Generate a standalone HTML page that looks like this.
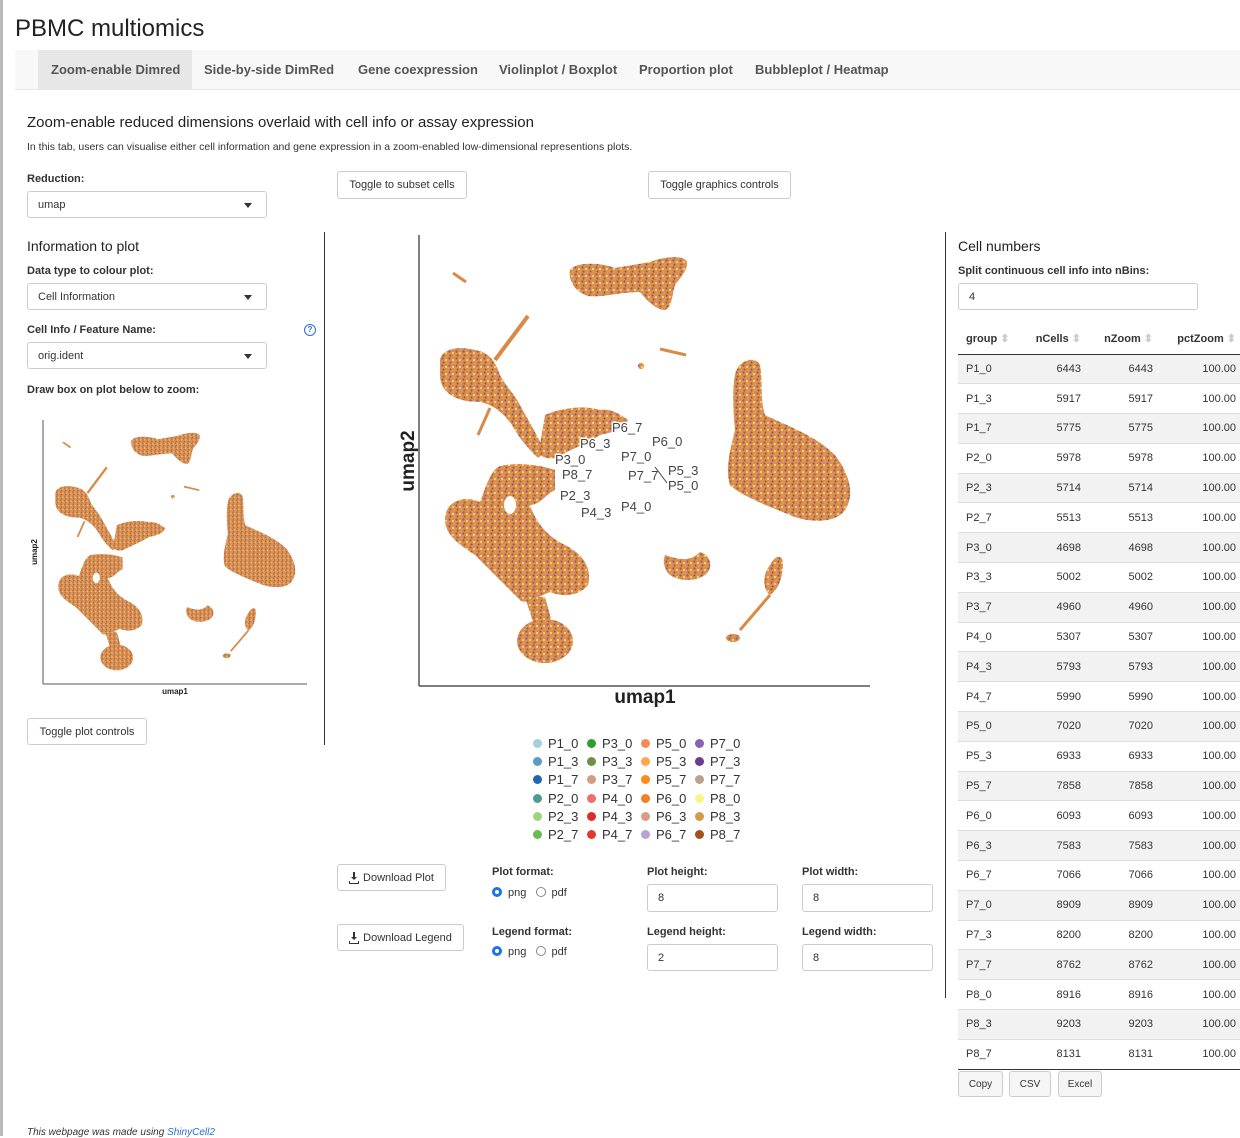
<!DOCTYPE html>
<html><head><meta charset="utf-8">
<style>
*{box-sizing:border-box;margin:0;padding:0}
body{width:1240px;height:1136px;overflow:hidden;background:#fff;font-family:"Liberation Sans",Arial,sans-serif;color:#333;position:relative}
.a{position:absolute;white-space:nowrap}
.lbl{font-size:11px;font-weight:bold;color:#333}
.sel,.inp{position:absolute;border:1px solid #ccc;border-radius:3px;font-size:11px;padding-left:10px;display:flex;align-items:center;background:#fff}
.sel:after{content:"";position:absolute;right:14px;top:50%;margin-top:-2px;border-left:4px solid transparent;border-right:4px solid transparent;border-top:5px solid #333}
.btn{position:absolute;border:1px solid #ccc;border-radius:3px;font-size:11px;display:flex;align-items:center;justify-content:center;background:#fff;color:#333}
.tab{position:absolute;top:50px;height:39px;font-size:13px;font-weight:bold;color:#555;display:flex;align-items:center}
table{position:absolute;left:958px;top:323px;border-collapse:collapse;font-size:11px;width:286px;table-layout:fixed}
td,th{height:29.8px;padding:0 8px;overflow:hidden}
th{text-align:left;font-weight:bold;height:31px;border-bottom:1px solid #333}
td.r,th.r{text-align:right}
tr.o td{background:#f2f2f2}
tr td{border-top:1px solid #ddd}
.leg{position:absolute;font-size:13px;color:#333}
.dot{display:inline-block;width:9px;height:9px;border-radius:50%;margin-right:6px;vertical-align:-0px}
.radio{display:inline-block;width:10px;height:10px;border-radius:50%;border:1px solid #888;vertical-align:-1px;margin-right:6px}
.radio.on{border:3px solid #1a73e8}
</style></head><body>
<div class="a" style="left:0;top:0;width:3px;height:1136px;background:#bbb"></div>
<div class="a" style="left:15px;top:15px;font-size:24px;color:#222">PBMC multiomics</div>
<div class="a" style="left:15px;top:50px;width:1225px;height:40px;background:#f8f8f8;border-bottom:1px solid #e7e7e7"></div>
<div class="a" style="left:38px;top:50px;width:154px;height:39px;background:#e7e7e7"></div>
<div class="tab" style="left:51px">Zoom-enable Dimred</div>
<div class="tab" style="left:204px">Side-by-side DimRed</div>
<div class="tab" style="left:358px">Gene coexpression</div>
<div class="tab" style="left:499px">Violinplot / Boxplot</div>
<div class="tab" style="left:639px">Proportion plot</div>
<div class="tab" style="left:755px">Bubbleplot / Heatmap</div>

<div class="a" style="left:27px;top:114px;font-size:15px;color:#222">Zoom-enable reduced dimensions overlaid with cell info or assay expression</div>
<div class="a" style="left:27px;top:141px;font-size:10.5px">In this tab, users can visualise either cell information and gene expression in a zoom-enabled low-dimensional representions plots.</div>

<div class="a lbl" style="left:27px;top:173px">Reduction:</div>
<div class="sel" style="left:27px;top:191px;width:240px;height:27px">umap</div>
<div class="btn" style="left:337px;top:171px;width:130px;height:28px">Toggle to subset cells</div>
<div class="btn" style="left:648px;top:171px;width:143px;height:28px">Toggle graphics controls</div>

<div class="a" style="left:27px;top:238px;font-size:14px;color:#222">Information to plot</div>
<div class="a lbl" style="left:27px;top:265px">Data type to colour plot:</div>
<div class="sel" style="left:27px;top:283px;width:240px;height:27px">Cell Information</div>
<div class="a lbl" style="left:27px;top:324px">Cell Info / Feature Name:</div>
<div class="a" style="left:304px;top:324px;width:12px;height:12px;border:1.5px solid #2a6fd6;border-radius:50%;font-size:8px;color:#2a6fd6;text-align:center;line-height:9px;font-weight:bold">?</div>
<div class="sel" style="left:27px;top:342px;width:240px;height:27px">orig.ident</div>
<div class="a lbl" style="left:27px;top:384px">Draw box on plot below to zoom:</div>
<div class="btn" style="left:27px;top:718px;width:120px;height:27px">Toggle plot controls</div>

<div class="a" style="left:324px;top:232px;width:1px;height:513px;background:#333"></div>
<div class="a" style="left:945px;top:232px;width:1px;height:766px;background:#333"></div>

<div class="btn" style="left:337px;top:864px;width:109px;height:27px;padding-left:14px">Download Plot</div>
<div class="btn" style="left:337px;top:924px;width:127px;height:27px;padding-left:14px">Download Legend</div>

<svg class="a" style="left:0;top:0;z-index:2" width="1240" height="1136">
<defs>
<pattern id="pt" width="7" height="7" patternUnits="userSpaceOnUse">
<rect width="7" height="7" fill="#e08f45"/>
<circle cx="1.5" cy="1.5" r="1.1" fill="#7d5aa0"/>
<circle cx="5" cy="3" r="1" fill="#efe27a"/>
<circle cx="2.5" cy="5.5" r="1" fill="#9c5a30"/>
<circle cx="6" cy="6" r="0.9" fill="#b59cc8"/>
</pattern>
<g id="blobs" fill="url(#pt)" stroke="none">
<path d="M570,270 C575,262 600,262 615,268 L650,262 C665,256 685,255 687,262 C688,270 680,278 675,285 C672,295 672,308 665,310 C655,310 645,298 640,292 C620,292 600,298 588,296 C575,292 568,280 570,270Z"/>
<path d="M440,360 C442,348 460,346 475,350 C488,352 495,360 500,375 C505,385 515,395 520,405 C528,420 540,440 545,452 L538,458 C530,450 520,440 512,425 C505,415 495,405 480,402 C455,402 440,392 440,375Z"/>
<path d="M545,415 C560,408 585,405 600,410 C610,408 620,414 628,420 C625,428 615,432 600,435 C590,442 570,450 555,458 C545,460 535,455 540,445Z"/>
<path d="M445,520 C445,500 465,495 480,502 C485,490 490,470 500,466 C520,462 540,465 555,470 L555,490 C545,495 540,505 530,505 C535,520 545,535 565,545 C585,555 592,570 588,585 C580,595 565,598 550,592 C535,598 525,605 520,600 C505,585 490,570 475,555 C460,545 445,535 445,520Z"/>
<path d="M525,597 L533,622 L552,622 L545,597Z"/>
<ellipse cx="545" cy="641" rx="28" ry="22"/>
<path d="M735,375 C738,360 755,355 760,365 C763,380 760,400 765,415 C785,425 815,435 835,455 C850,475 855,495 845,510 C835,525 805,522 790,515 C765,505 740,495 730,485 C725,470 730,450 735,430 C733,410 732,390 735,375Z"/>
<path d="M665,555 C680,560 690,562 700,552 C710,555 713,565 708,572 C700,582 680,582 670,575 C663,568 663,560 665,555Z"/>
<path d="M770,565 C775,555 783,553 783,565 C782,580 778,590 770,595 C763,590 762,575 770,565Z"/>
<ellipse cx="733" cy="638" rx="7" ry="4"/>
<circle cx="641" cy="366" r="3"/>
<g stroke="#d88a48" fill="none">
<path d="M495,360 L528,316" stroke-width="4"/>
<path d="M478,435 L490,408" stroke-width="3"/>
<path d="M770,595 L740,630" stroke-width="3"/>
<path d="M453,273 L466,282" stroke-width="3"/>
<path d="M660,349 L686,355" stroke-width="3"/>
</g>
<ellipse cx="510" cy="505" rx="6" ry="9" fill="#fff"/>
</g>
</defs>
<use href="#blobs"/>
<line x1="419" y1="235" x2="419" y2="686" stroke="#555" stroke-width="1.5"/>
<line x1="419" y1="686" x2="870" y2="686" stroke="#555" stroke-width="1.5"/>
<text x="645" y="703" font-size="19" font-weight="bold" text-anchor="middle" fill="#222" font-family="Liberation Sans">umap1</text>
<text x="414" y="461" font-size="19" font-weight="bold" text-anchor="middle" fill="#222" font-family="Liberation Sans" transform="rotate(-90 414 461)">umap2</text>
<g font-size="13" fill="#444" font-family="Liberation Sans" stroke="#fff" stroke-width="3" paint-order="stroke">
<text x="612" y="432">P6_7</text><text x="652" y="446">P6_0</text><text x="580" y="448">P6_3</text>
<text x="555" y="464">P3_0</text><text x="621" y="461">P7_0</text><text x="562" y="479">P8_7</text>
<text x="628" y="480">P7_7</text><text x="668" y="475">P5_3</text><text x="668" y="490">P5_0</text>
<text x="560" y="500">P2_3</text><text x="621" y="511">P4_0</text><text x="581" y="517">P4_3</text>
</g>
<line x1="655" y1="467" x2="667" y2="483" stroke="#444"/>
<use href="#blobs" transform="translate(-202.1 282.5) scale(0.585)"/>
<line x1="43" y1="420" x2="43" y2="684" stroke="#555"/>
<line x1="43" y1="684" x2="307" y2="684" stroke="#555"/>
<text x="175" y="694" font-size="8" font-weight="bold" text-anchor="middle" fill="#222" font-family="Liberation Sans">umap1</text>
<text x="37" y="552" font-size="8" font-weight="bold" text-anchor="middle" fill="#222" font-family="Liberation Sans" transform="rotate(-90 37 552)">umap2</text>
<g fill="#333">
<path d="M353,872 h2 v5 h2 l-3,3 l-3,-3 h2z M349,881 h1 v2 h8 v-2 h1 v3 h-10z"/>
<path d="M353,932 h2 v5 h2 l-3,3 l-3,-3 h2z M349,941 h1 v2 h8 v-2 h1 v3 h-10z"/>
</g>
</svg>

<div class="leg" style="left:533px;top:735px;line-height:18.2px">
<div><span class="dot" style="background:#a6cee3"></span>P1_0</div><div><span class="dot" style="background:#5a9bc9"></span>P1_3</div><div><span class="dot" style="background:#1f68ad"></span>P1_7</div><div><span class="dot" style="background:#4f9a96"></span>P2_0</div><div><span class="dot" style="background:#9ed47e"></span>P2_3</div><div><span class="dot" style="background:#6bbb55"></span>P2_7</div></div>
<div class="leg" style="left:587px;top:735px;line-height:18.2px">
<div><span class="dot" style="background:#2e9f2e"></span>P3_0</div><div><span class="dot" style="background:#6f8f45"></span>P3_3</div><div><span class="dot" style="background:#d49a84"></span>P3_7</div><div><span class="dot" style="background:#f16c6c"></span>P4_0</div><div><span class="dot" style="background:#e32a2a"></span>P4_3</div><div><span class="dot" style="background:#e3372a"></span>P4_7</div></div>
<div class="leg" style="left:641px;top:735px;line-height:18.2px">
<div><span class="dot" style="background:#f48b55"></span>P5_0</div><div><span class="dot" style="background:#fca94a"></span>P5_3</div><div><span class="dot" style="background:#fd8a1b"></span>P5_7</div><div><span class="dot" style="background:#f3801f"></span>P6_0</div><div><span class="dot" style="background:#d99a86"></span>P6_3</div><div><span class="dot" style="background:#b9a1d4"></span>P6_7</div></div>
<div class="leg" style="left:695px;top:735px;line-height:18.2px">
<div><span class="dot" style="background:#8763b3"></span>P7_0</div><div><span class="dot" style="background:#6a3d92"></span>P7_3</div><div><span class="dot" style="background:#b9a28e"></span>P7_7</div><div><span class="dot" style="background:#faf585"></span>P8_0</div><div><span class="dot" style="background:#d39a4c"></span>P8_3</div><div><span class="dot" style="background:#a64e1c"></span>P8_7</div></div>

<div class="a lbl" style="left:492px;top:866px">Plot format:</div>
<div class="a" style="left:492px;top:887px;font-size:11px"><span class="radio on"></span>png &nbsp; <span class="radio"></span>pdf</div>
<div class="a lbl" style="left:492px;top:926px">Legend format:</div>
<div class="a" style="left:492px;top:946px;font-size:11px"><span class="radio on"></span>png &nbsp; <span class="radio"></span>pdf</div>
<div class="a lbl" style="left:647px;top:866px">Plot height:</div>
<div class="inp" style="left:647px;top:884px;width:131px;height:28px">8</div>
<div class="a lbl" style="left:802px;top:866px">Plot width:</div>
<div class="inp" style="left:802px;top:884px;width:131px;height:28px">8</div>
<div class="a lbl" style="left:647px;top:926px">Legend height:</div>
<div class="inp" style="left:647px;top:944px;width:131px;height:27px">2</div>
<div class="a lbl" style="left:802px;top:926px">Legend width:</div>
<div class="inp" style="left:802px;top:944px;width:131px;height:27px">8</div>

<div class="a" style="left:958px;top:238px;font-size:14px;color:#222">Cell numbers</div>
<div class="a lbl" style="left:958px;top:265px">Split continuous cell info into nBins:</div>
<div class="inp" style="left:958px;top:283px;width:240px;height:27px">4</div>

<table>
<colgroup><col style="width:62px"><col style="width:69px"><col style="width:72px"><col style="width:83px"></colgroup>
<tr><th>group <span style="color:#ccc">⬍</span></th><th class="r">nCells <span style="color:#ccc">⬍</span></th><th class="r">nZoom <span style="color:#ccc">⬍</span></th><th class="r">pctZoom <span style="color:#ccc">⬍</span></th></tr>
<tr class="o"><td>P1_0</td><td class="r">6443</td><td class="r">6443</td><td class="r">100.00</td></tr>
<tr><td>P1_3</td><td class="r">5917</td><td class="r">5917</td><td class="r">100.00</td></tr>
<tr class="o"><td>P1_7</td><td class="r">5775</td><td class="r">5775</td><td class="r">100.00</td></tr>
<tr><td>P2_0</td><td class="r">5978</td><td class="r">5978</td><td class="r">100.00</td></tr>
<tr class="o"><td>P2_3</td><td class="r">5714</td><td class="r">5714</td><td class="r">100.00</td></tr>
<tr><td>P2_7</td><td class="r">5513</td><td class="r">5513</td><td class="r">100.00</td></tr>
<tr class="o"><td>P3_0</td><td class="r">4698</td><td class="r">4698</td><td class="r">100.00</td></tr>
<tr><td>P3_3</td><td class="r">5002</td><td class="r">5002</td><td class="r">100.00</td></tr>
<tr class="o"><td>P3_7</td><td class="r">4960</td><td class="r">4960</td><td class="r">100.00</td></tr>
<tr><td>P4_0</td><td class="r">5307</td><td class="r">5307</td><td class="r">100.00</td></tr>
<tr class="o"><td>P4_3</td><td class="r">5793</td><td class="r">5793</td><td class="r">100.00</td></tr>
<tr><td>P4_7</td><td class="r">5990</td><td class="r">5990</td><td class="r">100.00</td></tr>
<tr class="o"><td>P5_0</td><td class="r">7020</td><td class="r">7020</td><td class="r">100.00</td></tr>
<tr><td>P5_3</td><td class="r">6933</td><td class="r">6933</td><td class="r">100.00</td></tr>
<tr class="o"><td>P5_7</td><td class="r">7858</td><td class="r">7858</td><td class="r">100.00</td></tr>
<tr><td>P6_0</td><td class="r">6093</td><td class="r">6093</td><td class="r">100.00</td></tr>
<tr class="o"><td>P6_3</td><td class="r">7583</td><td class="r">7583</td><td class="r">100.00</td></tr>
<tr><td>P6_7</td><td class="r">7066</td><td class="r">7066</td><td class="r">100.00</td></tr>
<tr class="o"><td>P7_0</td><td class="r">8909</td><td class="r">8909</td><td class="r">100.00</td></tr>
<tr><td>P7_3</td><td class="r">8200</td><td class="r">8200</td><td class="r">100.00</td></tr>
<tr class="o"><td>P7_7</td><td class="r">8762</td><td class="r">8762</td><td class="r">100.00</td></tr>
<tr><td>P8_0</td><td class="r">8916</td><td class="r">8916</td><td class="r">100.00</td></tr>
<tr class="o"><td>P8_3</td><td class="r">9203</td><td class="r">9203</td><td class="r">100.00</td></tr>
<tr><td>P8_7</td><td class="r">8131</td><td class="r">8131</td><td class="r">100.00</td></tr>
</table>
<div class="a" style="left:958px;top:1069px;width:282px;height:1px;background:#333"></div>
<div class="btn" style="left:958px;top:1071px;width:45px;height:26px;font-size:10px;background:#f5f5f5">Copy</div>
<div class="btn" style="left:1009px;top:1071px;width:42px;height:26px;font-size:10px;background:#f5f5f5">CSV</div>
<div class="btn" style="left:1058px;top:1071px;width:44px;height:26px;font-size:10px;background:#f5f5f5">Excel</div>

<div class="a" style="left:27px;top:1127px;font-size:10px;font-style:italic">This webpage was made using <span style="color:#2a6fd6">ShinyCell2</span></div>
</body></html>
